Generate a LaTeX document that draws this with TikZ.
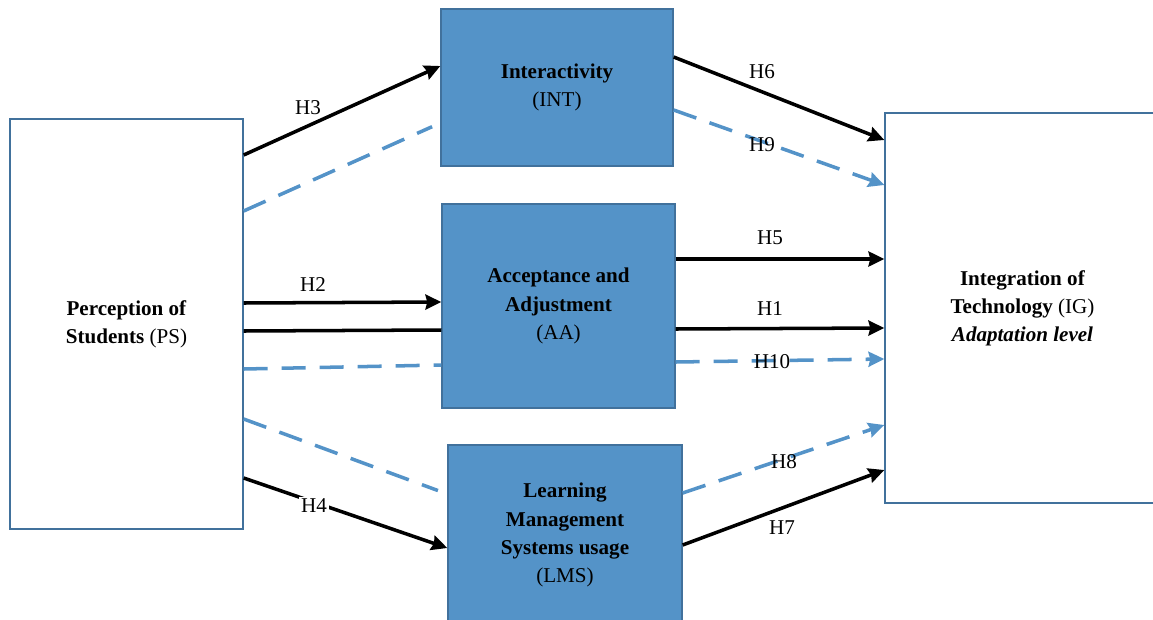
\documentclass[tikz,border=0pt]{standalone}
\usepackage{fontspec}
\setmainfont{Liberation Serif}
\usetikzlibrary{arrows.meta}
\definecolor{xanh}{RGB}{84,147,200}
\definecolor{vien}{RGB}{65,113,156}
\tikzset{
	khung/.style={draw=vien,line width=.8pt,align=center,font=\fontsize{12}{16}\selectfont},
	khungxanh/.style={khung,fill=xanh},
	duong/.style={line width=2pt},
	netdut/.style={xanh,line width=2pt,dash pattern=on .48cm off .28cm},
	muiten/.style={-{Stealth[length=9pt,width=8.5pt,inset=1pt]}},
	nhan/.style={font=\fontsize{12}{14}\selectfont,inner sep=1pt}
}
\begin{document}
\begin{tikzpicture}[x=.02cm,y=-.02cm]
	\useasboundingbox (0,0) rectangle (1153,619);
	%cac khung
	\node[khung,minimum width=4.66cm,minimum height=8.2cm] (PS) at (126.5,324) {\textbf{Perception of}\\\textbf{Students} (PS)};
	\node[khungxanh,minimum width=4.64cm,minimum height=3.14cm] (INT) at (557,87.5) {\textbf{Interactivity}\\(INT)};
	\node[khungxanh,minimum width=4.66cm,minimum height=4.08cm] (AA) at (558.5,306) {\textbf{Acceptance and}\\\textbf{Adjustment}\\(AA)};
	\node[khungxanh,minimum width=4.68cm,minimum height=3.6cm] (LMS) at (565,535) {\textbf{Learning}\\\textbf{Management}\\\textbf{Systems usage}\\(LMS)};
	\node[khung,minimum width=5.5cm,minimum height=7.8cm] (IG) at (1022.5,308) {\textbf{Integration of}\\\textbf{Technology} (IG)\\\textbf{\textit{Adaptation level}}};
	%PS -> INT, AA, LMS
	\draw[duong,muiten] (PS.east |- 0,155) -- (INT.west |- 0,66);
	\draw[netdut,shorten >=.18cm] (PS.east |- 0,211) -- (INT.west |- 0,123);
	\draw[duong,muiten] (PS.east |- 0,303) -- (AA.west |- 0,302);
	\draw[duong] (PS.east |- 0,331) -- (AA.west |- 0,330);
	\draw[netdut] (PS.east |- 0,369) -- (AA.west |- 0,365);
	\draw[netdut,shorten >=.2cm] (PS.east |- 0,419) -- (LMS.west |- 0,494);
	\draw[duong,muiten] (PS.east |- 0,478) -- (LMS.west |- 0,548);
	%INT, AA, LMS -> IG
	\draw[duong,muiten] (INT.east |- 0,57) -- (IG.west |- 0,140);
	\draw[netdut,muiten] (INT.east |- 0,110) -- (IG.west |- 0,185);
	\draw[duong,muiten] (AA.east |- 0,259) -- (IG.west |- 0,259);
	\draw[duong,muiten] (AA.east |- 0,329) -- (IG.west |- 0,328);
	\draw[netdut,muiten] (AA.east |- 0,362) -- (IG.west |- 0,359);
	\draw[netdut,muiten] (LMS.east |- 0,493) -- (IG.west |- 0,425);
	\draw[duong,muiten] (LMS.east |- 0,545) -- (IG.west |- 0,470);
	%nhan
	\node[nhan] (h3) at (308,108) {H3};
	\node[nhan] (h2) at (313,285) {H2};
	\node[nhan,fill=white] (h4) at (314,506) {H4};
	\node[nhan] (h6) at (762,72) {H6};
	\node[nhan] (h9) at (762,145) {H9};
	\node[nhan] (h5) at (770,238) {H5};
	\node[nhan] (h1) at (770,309) {H1};
	\node[nhan] (h10) at (772,362) {H10};
	\node[nhan] (h8) at (784,462) {H8};
	\node[nhan] (h7) at (782,528) {H7};
\end{tikzpicture}
\end{document}
